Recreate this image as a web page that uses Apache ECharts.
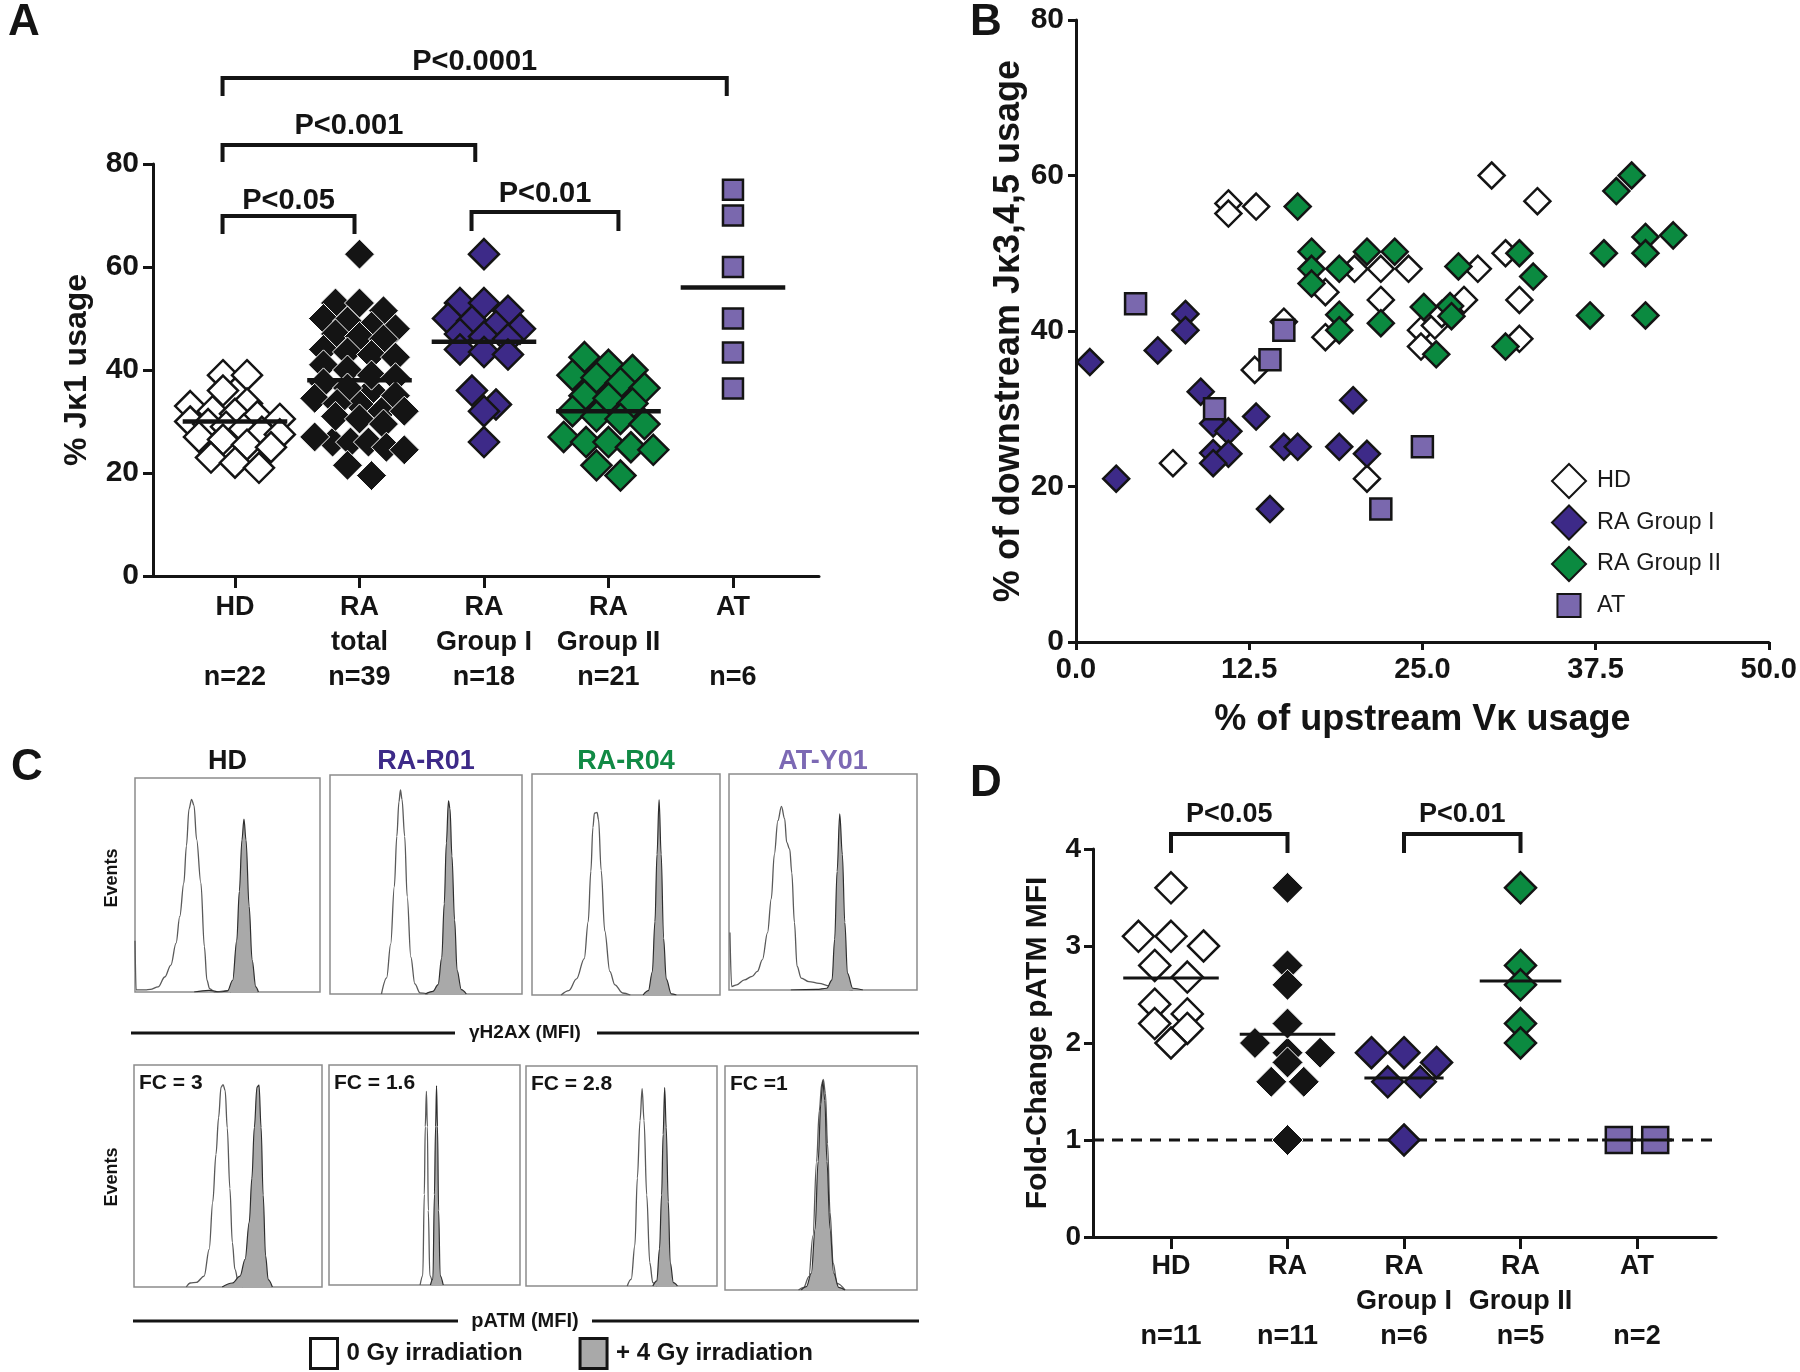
<!DOCTYPE html>
<html><head><meta charset="utf-8">
<script src="https://cdn.jsdelivr.net/npm/echarts@6/dist/echarts.min.js"></script>
<style>html,body{margin:0;padding:0;background:#fff}#c{width:1800px;height:1372px}</style>
</head><body><div id="c"></div><script>
// ======================= DATA =======================
// Panel A : % Jk1 usage
const catLabelsA = [['HD',' ','n=22'],['RA','total','n=39'],['RA','Group I','n=18'],['RA','Group II','n=21'],['AT',' ','n=6']];
const hdA = [39,39,36,33.5,33,32,31.5,31,30.5,30,29.5,29,28.5,28,27.5,27,26.5,25.5,25,23,22,21];
const g1A = [62.5,53,53,51.5,50,49.5,48.5,48,47,46.5,46,44,43.5,43,36,33.3,32,26];
const g2A = [42.5,41,40,39,38.5,37.5,36.5,35,34.5,33.5,32,31,30.5,29.5,27,26,26,25,24.5,21.5,19.5];
const raTotalA = g1A.concat(g2A);
const atA = [75,70,60,50,43.4,36.4];
const meansA = [30,38,45.5,32,56];
const yTicksA = [0,20,40,60,80];
const bracketsA = [
  {from:-0.1,to:3.95,leg:93.2,bar:96.7,textY:99.8,text:'P<0.0001'},
  {from:-0.1,to:1.93,leg:80.4,bar:83.7,textY:87.4,text:'P<0.001'},
  {from:-0.1,to:0.96,leg:66.4,bar:69.9,textY:72.8,text:'P<0.05'},
  {from:1.9,to:3.08,leg:67.0,bar:70.7,textY:74.2,text:'P<0.01'}
];
// Panel B : [% upstream Vk, % downstream Jk3,4,5]
const hdB = [[11.0,56.4],[11.0,55.1],[13.0,56.0],[30.0,60.0],[33.3,56.7],[7.0,23.0],[12.9,35.0],[15.0,41.2],[18.0,45.0],[18.0,39.2],[20.1,48.0],[22.0,48.0],[24.0,48.0],[22.0,44.0],[21.0,21.0],[24.9,40.1],[24.9,38.0],[25.9,40.7],[26.4,42.2],[28.0,44.0],[29.0,48.0],[31.0,50.0],[32.0,44.0],[32.0,39.0]];
const g1B = [[1.0,36.0],[2.9,21.0],[5.9,37.5],[7.9,42.2],[7.9,40.1],[9.0,32.2],[9.9,28.1],[11.0,27.1],[9.9,24.3],[11.0,24.2],[9.9,23.0],[13.0,29.0],[14.0,17.1],[15.0,25.1],[16.0,25.1],[19.0,25.1],[20.0,31.1],[21.0,24.2]];
const g2B = [[16.0,56.0],[17.0,50.2],[17.0,48.0],[17.0,46.1],[19.0,48.0],[21.0,50.2],[23.0,50.2],[19.0,42.1],[19.0,40.1],[22.0,41.0],[25.1,43.1],[26.0,37.0],[27.0,43.2],[27.1,41.9],[27.6,48.3],[31.0,38.0],[32.0,50.0],[33.0,47.0],[37.1,42.0],[38.1,50.0],[39.0,58.0],[40.1,60.0],[41.1,52.1],[41.1,50.0],[41.1,42.0],[43.1,52.3]];
const atB = [[4.3,43.5],[15.0,40.1],[14.0,36.3],[10.0,30.0],[25.0,25.1],[22.0,17.1]];
const xTicksB = [0,12.5,25,37.5,50];
const yTicksB = [0,20,40,60,80];
// Panel C : flow histograms, [MFI (relative %), events (% of box)]
const hdGammaOpen  = [[0,24],[0.6,1],[5.6,1],[8.3,1.2],[12.5,2.4],[16.1,7],[19.4,12.6],[22.2,22.8],[24.2,35.3],[26.4,51],[27.8,68.3],[29.2,85.6],[30.6,90],[31.9,87.1],[33.3,71.4],[35.6,51],[37.5,21.2],[38.9,5.5],[40.3,1.6],[43.1,0],[50,0.6],[52,0]];
const hdGammaFill  = [[32,0],[40,0.8],[46,0],[50,0.5],[52.8,5.5],[55,24],[56.4,47],[57.8,71],[58.9,80.8],[60,71],[61.7,40],[63.3,15],[65.3,2.4],[66.7,0]];
const r01GammaOpen = [[26.8,0],[29.5,7.4],[31.6,22.8],[33.5,49],[34.8,72],[35.9,87.7],[36.7,93.2],[37.5,88.9],[38.9,72],[40.2,44.6],[42.1,16.9],[44.2,4.6],[46.9,0.5],[50.9,0]];
const r01GammaFill = [[49.6,0],[53.6,1.2],[56.3,4.3],[58.2,16.6],[59.5,41.2],[60.6,68.9],[61.7,88.2],[62.5,84.6],[63.5,63],[64.9,33.8],[66.2,10.8],[68.4,2],[71,0]];
const r04GammaOpen = [[15.5,0],[19.6,2],[23.7,7.3],[27.8,16.5],[29.9,33.2],[31.3,56],[32.4,75.8],[33.2,82.3],[34.6,82.6],[35.4,79.3],[36.8,56.4],[38.7,29],[41.4,10.7],[44.1,4.6],[48.2,0.9],[52.3,0]];
const r04GammaFill = [[59.1,0],[61.9,2],[64,10.4],[65.4,33.2],[66.5,63.7],[67.6,88.4],[68.7,63.7],[70,25.6],[71.4,7.3],[74.1,0.5],[76.8,0]];
const y01GammaOpen = [[0.5,26.6],[1.4,1.6],[4.1,2.4],[8.2,4.7],[12.3,6.3],[15.1,8.6],[17.8,14.1],[20.5,26.6],[22.5,42.3],[24.1,62.7],[26,78.4],[27.9,85],[29.6,79.3],[30.7,68.3],[32.3,65.2],[33.4,54.2],[34.8,31.3],[36.2,11],[38.4,5.5],[42.5,3.9],[47.9,3.1],[53.4,1.9],[58.9,0.8],[65.8,0]];
const y01GammaFill = [[32.9,0],[46.6,0.3],[52,0.8],[54.8,4.7],[56.2,23.5],[57.5,54.9],[58.9,81.5],[60.3,62.7],[61.6,31.3],[63,7.8],[65.8,0.8],[71.2,0]];
const hdAtmOpen  = [[27.8,0],[30,1.8],[33.2,2.1],[37.3,4.9],[40,17],[41.9,38.4],[43.6,59.7],[45,76.3],[46.3,90],[47.4,91.2],[48.5,88.4],[49.6,71.7],[51,44.4],[52.3,20.1],[53.7,7.9],[55.6,1.8],[57.8,0]];
const hdAtmFill  = [[46.9,0],[52.3,1.8],[56.4,4.9],[59.1,12.5],[61.3,29.2],[62.7,49],[64,71.8],[65.4,90],[66.5,90.9],[67.6,71.8],[68.7,41.4],[70,14],[71.4,3.3],[73.6,0]];
const r01AtmOpen = [[47.7,0],[49.1,4.3],[49.9,41.2],[50.4,72],[51,88],[51.5,72],[52,33.8],[52.8,4.3],[54.4,0]];
const r01AtmFill = [[53.1,0],[54.4,2.8],[55.2,41.2],[55.8,72],[56.3,90.5],[56.8,72],[57.4,33.8],[58.2,4.3],[59.8,0]];
const r04AtmOpen = [[53,0],[55.1,3.1],[57,18.4],[58.3,49.1],[59.7,75.2],[60.8,89.7],[61.8,75.2],[63.2,41.4],[64.8,10.7],[66.4,1.5],[68.5,0]];
const r04AtmFill = [[66.4,0],[68.5,2.3],[69.9,16.9],[71,41.4],[71.8,69],[72.6,90.2],[73.4,72.1],[74.5,38.3],[75.5,10.7],[77.2,1.5],[79.3,0]];
const y01AtmOpen = [[38.3,0],[41,1.2],[43.7,6],[45.8,24.2],[47.7,57.4],[49.1,80],[50.4,92.1],[51.2,94],[52.3,87.9],[53.4,65.3],[54.7,34.7],[56.3,12.1],[58.4,3],[62.5,0]];
const y01AtmFill = [[39.7,0],[42.4,1.5],[45,7.6],[46.9,27.2],[48.5,57.4],[49.9,83.1],[50.9,93.4],[52,84.6],[53.1,57.4],[54.7,27.2],[56.6,7.6],[59.2,1.2],[62.5,0]];
const titlesC = ['HD','RA-R01','RA-R04','AT-Y01'];
const fcLabelsC = ['FC = 3','FC = 1.6','FC = 2.8','FC =1'];
// Panel D : fold-change pATM MFI
const catLabelsD = [['HD',' ','n=11'],['RA',' ','n=11'],['RA','Group I','n=6'],['RA','Group II','n=5'],['AT',' ','n=2']];
const hdD = [3.6,3.1,3.1,3.0,2.8,2.68,2.4,2.3,2.2,2.15,2.0];
const g1D = [1.9,1.9,1.8,1.6,1.6,1.0];
const g2D = [3.6,2.8,2.6,2.2,2.0];
const raD = g1D.concat(g2D);
const atD = [1.0,1.0];
const meansD = [2.67,2.09,1.64,2.64,1.0];
const refLineD = 1;
const yTicksD = [0,1,2,3,4];
const bracketsD = [
  {from:0,to:1,leg:3.96,bar:4.155,textY:4.36,text:'P<0.05'},
  {from:2,to:3,leg:3.96,bar:4.155,textY:4.36,text:'P<0.01'}
];

// ======================= STYLE / LAYOUT =======================
const FONT = '"Liberation Sans", Arial, Helvetica, sans-serif';
const INK = '#141414';
const PURPLE = '#3d2a88', GREEN = '#0b8a40', LAV = '#7a68ae';
const gridA = {left:153, top:164, width:666, height:412};
const gridB = {left:1076, top:20, width:693, height:622};
const gridD = {left:1093, top:849, width:623, height:388};
const xRangeA = [-0.6586, 4.691], xRangeD = [-0.6695, 4.678];
const boxesC = [
  [135,778,185,214],[330,775,192,219],[532,774,188,221],[729,774,188,216],
  [134,1065,188,222],[329,1065,191,220],[526,1066,191,220],[725,1066,192,224]
];

// deterministic row-based spreading (Prism-like scatter dot plot)
function swarm(vals, pxPerUnit, size, pxPerCat, maxCat, spacingF) {
  const order = vals.map((v,i)=>i).sort((a,b)=>vals[b]-vals[a]);
  const off = new Array(vals.length).fill(0);
  const binH = size*0.5;
  let i = 0;
  while (i < order.length) {
    const top = vals[order[i]]*pxPerUnit;
    const row = [];
    while (i < order.length && top - vals[order[i]]*pxPerUnit < binH) { row.push(order[i]); i++; }
    const n = row.length;
    let sp = size*spacingF;
    if (n > 1) sp = Math.min(sp, 2*maxCat*pxPerCat/(n-1));
    row.forEach((k,j)=>{ off[k] = (j-(n-1)/2)*sp/pxPerCat; });
  }
  return off;
}

const series = [];
function dotSeries(name, gi, cat, vals, sym, size, fill, border, bw, pxU, pxC, spF) {
  const off = swarm(vals, pxU, size, pxC, 0.36, spF);
  series.push({type:'scatter', name, xAxisIndex:gi, yAxisIndex:gi, symbol:sym, symbolSize:size,
    data: vals.map((v,i)=>[cat+off[i], v]), clip:false, silent:true, z:3,
    itemStyle:{color:fill, borderColor:border, borderWidth:bw, opacity:1}});
}
function meanLine(gi, cat, m, half, w) {
  series.push({type:'line', xAxisIndex:gi, yAxisIndex:gi, data:[[cat-half,m],[cat+half,m]], symbol:'none',
    lineStyle:{color:INK, width:w}, z:6, silent:true, clip:false});
}
function bracket(gi, b, w, fs) {
  series.push({type:'line', xAxisIndex:gi, yAxisIndex:gi, symbol:'none', clip:false, silent:true, z:6,
    data:[[b.from,b.leg],[b.from,b.bar],[b.to,b.bar],[b.to,b.leg]],
    lineStyle:{color:INK, width:w, join:'miter', cap:'butt'}});
  series.push({type:'scatter', xAxisIndex:gi, yAxisIndex:gi, symbolSize:1, clip:false, silent:true, z:6,
    data:[[(b.from+b.to)/2, b.textY]], itemStyle:{color:'rgba(0,0,0,0)'},
    label:{show:true, position:'inside', formatter:b.text, fontFamily:FONT, fontWeight:'bold', fontSize:fs,
      color:INK, textBorderWidth:0, textBorderColor:'transparent', opacity:1}});
}

// ---- Panel A (grid 0)
const pxUA = gridA.height/80, pxCA = gridA.width/(xRangeA[1]-xRangeA[0]);
dotSeries('A-HD',0,0,hdA,'diamond',30,'#ffffff',INK,2.5,pxUA,pxCA,0.8);
dotSeries('A-RA',0,1,raTotalA,'diamond',30,INK,'#ffffff',1,pxUA,pxCA,0.8);
dotSeries('A-G1',0,2,g1A,'diamond',30,PURPLE,INK,2.5,pxUA,pxCA,0.8);
dotSeries('A-G2',0,3,g2A,'diamond',30,GREEN,INK,2.5,pxUA,pxCA,0.8);
dotSeries('A-AT',0,4,atA,'rect',20,LAV,INK,2.5,pxUA,pxCA,0.8);
meansA.forEach((m,i)=>meanLine(0,i,m,0.42,4.5));
bracketsA.forEach(b=>bracket(0,b,4,29));

// ---- Panel B (grid 1)
const bStyle = (fill)=>({color:fill, borderColor:INK, borderWidth:2.5, opacity:1});
series.push({type:'scatter', name:'HD', xAxisIndex:1, yAxisIndex:1, symbol:'diamond', symbolSize:26, data:hdB, itemStyle:bStyle('#ffffff'), z:3, silent:true});
series.push({type:'scatter', name:'RA Group I', xAxisIndex:1, yAxisIndex:1, symbol:'diamond', symbolSize:26, data:g1B, itemStyle:bStyle(PURPLE), z:3, silent:true});
series.push({type:'scatter', name:'RA Group II', xAxisIndex:1, yAxisIndex:1, symbol:'diamond', symbolSize:26, data:g2B, itemStyle:bStyle(GREEN), z:3, silent:true});
series.push({type:'scatter', name:'AT', xAxisIndex:1, yAxisIndex:1, symbol:'rect', symbolSize:21, data:atB, itemStyle:bStyle(LAV), z:3, silent:true});

// ---- Panel D (grid 2)
const pxUD = gridD.height/4, pxCD = gridD.width/(xRangeD[1]-xRangeD[0]);
series.push({type:'line', xAxisIndex:2, yAxisIndex:2, symbol:'none', silent:true, z:2,
  data:[[xRangeD[0],refLineD],[xRangeD[1],refLineD]], lineStyle:{color:INK, width:3, type:[11,8]}});
dotSeries('D-HD',2,0,hdD,'diamond',31,'#ffffff',INK,2.5,pxUD,pxCD,1.05);
dotSeries('D-RA',2,1,raD,'diamond',31,INK,'#ffffff',1,pxUD,pxCD,1.05);
dotSeries('D-G1',2,2,g1D,'diamond',31,PURPLE,INK,2.5,pxUD,pxCD,1.05);
dotSeries('D-G2',2,3,g2D,'diamond',31,GREEN,INK,2.5,pxUD,pxCD,1.05);
dotSeries('D-AT',2,4,atD,'rect',26,LAV,INK,2.5,pxUD,pxCD,1.4);
const halfD = [0.41,0.41,0.34,0.35,0.3];
meansD.forEach((m,i)=>meanLine(2,i,m,halfD[i],3));
bracketsD.forEach(b=>bracket(2,b,4,27));

// ---- Panel C (grids 3..10)
const histOpen = [hdGammaOpen,r01GammaOpen,r04GammaOpen,y01GammaOpen,hdAtmOpen,r01AtmOpen,r04AtmOpen,y01AtmOpen];
const histFill = [hdGammaFill,r01GammaFill,r04GammaFill,y01GammaFill,hdAtmFill,r01AtmFill,r04AtmFill,y01AtmFill];
histOpen.forEach((d,i)=>{
  const gi = 3+i;
  series.push({type:'line', name:'0 Gy irradiation', xAxisIndex:gi, yAxisIndex:gi, data:d, symbol:'none',
    smooth:0.35, smoothMonotone:'x', lineStyle:{color:'#5a5a5a', width:1.3}, z:2, silent:true});
  series.push({type:'line', name:'+ 4 Gy irradiation', xAxisIndex:gi, yAxisIndex:gi, data:histFill[i], symbol:'none',
    smooth:0.35, smoothMonotone:'x', lineStyle:{color:'#2e2e2e', width:1.2},
    areaStyle:{color:'#a9a9a9', opacity:1}, z:3, silent:true});
});

// ======================= AXES =======================
const bold = {fontFamily:FONT, fontWeight:'bold', color:INK};
const grids = [gridA, gridB, gridD].concat(boxesC.map(b=>({left:b[0], top:b[1], width:b[2], height:b[3],
  show:true, borderColor:'#8c8c8c', borderWidth:1.5, backgroundColor:'rgba(0,0,0,0)'})));
const axisLine = {show:true, onZero:false, lineStyle:{color:INK, width:3}};
const xAxes = [
  {gridIndex:0, type:'value', min:xRangeA[0], max:xRangeA[1], axisLine,
   axisTick:{show:true, customValues:[0,1,2,3,4], length:12, lineStyle:{color:INK,width:3}},
   axisLabel:{customValues:[0,1,2,3,4], formatter:v=>catLabelsA[Math.round(v)].join('\n'), margin:14,
     fontSize:27, lineHeight:35, ...bold}, splitLine:{show:false}},
  {gridIndex:1, type:'value', min:0, max:50, interval:12.5, axisLine,
   axisTick:{show:true, length:8, lineStyle:{color:INK,width:3}},
   axisLabel:{formatter:v=>v.toFixed(1), margin:13, fontSize:29, ...bold}, splitLine:{show:false},
   name:'% of upstream V\u03ba usage', nameLocation:'middle', nameGap:60, nameTextStyle:{fontSize:36, ...bold}},
  {gridIndex:2, type:'value', min:xRangeD[0], max:xRangeD[1], axisLine,
   axisTick:{show:true, customValues:[0,1,2,3,4], length:12, lineStyle:{color:INK,width:3}},
   axisLabel:{customValues:[0,1,2,3,4], formatter:v=>catLabelsD[Math.round(v)].join('\n'), margin:12,
     fontSize:27, lineHeight:35, ...bold}, splitLine:{show:false}}
].concat(boxesC.map((b,i)=>({gridIndex:3+i, type:'value', min:0, max:100, show:false})));
const yAxes = [
  {gridIndex:0, type:'value', min:0, max:80, interval:20, axisLine,
   axisTick:{show:true, length:10, lineStyle:{color:INK,width:3}},
   axisLabel:{margin:14, fontSize:30, ...bold}, splitLine:{show:false},
   name:'% J\u03ba1 usage', nameLocation:'middle', nameGap:60, nameTextStyle:{fontSize:32, ...bold}},
  {gridIndex:1, type:'value', min:0, max:80, interval:20, axisLine,
   axisTick:{show:true, length:8, lineStyle:{color:INK,width:3}},
   axisLabel:{margin:12, fontSize:30, ...bold}, splitLine:{show:false},
   name:'% of downstream J\u03ba3,4,5 usage', nameLocation:'middle', nameGap:48, nameTextStyle:{fontSize:36, ...bold}},
  {gridIndex:2, type:'value', min:0, max:4, interval:1, axisLine,
   axisTick:{show:true, length:9, lineStyle:{color:INK,width:3}},
   axisLabel:{margin:12, fontSize:28, ...bold}, splitLine:{show:false},
   name:'Fold-Change pATM MFI', nameLocation:'middle', nameGap:40, nameTextStyle:{fontSize:30, ...bold}}
].concat(boxesC.map((b,i)=>({gridIndex:3+i, type:'value', min:0, max:100, show:false})));

// ======================= ANNOTATION TEXT =======================
function txt(x, y, text, size, opts={}) {
  return Object.assign({type:'text', x, y, silent:true, z:10, style:{text, fill:opts.color||INK,
    font:`bold ${size}px ${FONT}`, textAlign:opts.align||'center', align:opts.align||'center',
    textVerticalAlign:'middle', verticalAlign:'middle'}}, opts.rotation?{rotation:opts.rotation}:{});
}
function hline(x1, x2, y) {
  return {type:'line', silent:true, shape:{x1, y1:y, x2, y2:y}, style:{stroke:INK, lineWidth:3}};
}
const titleColors = [INK, PURPLE, '#118a45', '#7c69b4'];
const graphics = [
  txt(24,23,'A',44), txt(986,23,'B',44), txt(27,768,'C',44), txt(986,784,'D',44),
  txt(112,878,'Events',18,{rotation:Math.PI/2}), txt(112,1177,'Events',18,{rotation:Math.PI/2}),
  hline(131,455,1033), hline(597,919,1033), txt(525,1033,'\u03b3H2AX (MFI)',19),
  hline(133,458,1321), hline(592,919,1321), txt(525,1321,'pATM (MFI)',20)
];
titlesC.forEach((t,i)=>{ const b=boxesC[i]; graphics.push(txt(b[0]+b[2]/2, 762, t, 27, {color:titleColors[i]})); });
fcLabelsC.forEach((t,i)=>{ const b=boxesC[4+i]; graphics.push(txt(b[0]+5, b[1]+18, t, 21, {align:'left'})); });

// ======================= CHART =======================
const chart = echarts.init(document.getElementById('c'), null, {renderer:'canvas'});
chart.setOption({
  animation:false, backgroundColor:'#ffffff',
  grid:grids, xAxis:xAxes, yAxis:yAxes, series,
  legend:[
    {left:1546, top:458, orient:'vertical', itemWidth:34, itemHeight:34, itemGap:5.5, selectedMode:false,
     data:[{name:'HD'},{name:'RA Group I'},{name:'RA Group II'},
           {name:'AT', icon:'path://M0,0M100,100M16,16L84,16L84,84L16,84Z'}],
     textStyle:{fontFamily:FONT, fontSize:23.5, color:'#1a1a1a', padding:[0,0,0,6]}},
    {left:304, top:1332, orient:'horizontal', itemWidth:27, itemHeight:30, itemGap:56, selectedMode:false,
     data:[{name:'0 Gy irradiation', icon:'rect', itemStyle:{color:'#ffffff', borderColor:INK, borderWidth:3}},
           {name:'+ 4 Gy irradiation', icon:'rect', itemStyle:{color:'#a9a9a9', borderColor:INK, borderWidth:3}}],
     textStyle:{fontFamily:FONT, fontSize:24, fontWeight:'bold', color:INK, padding:[0,0,0,4]}}
  ],
  graphic:graphics
});
</script></body></html>
